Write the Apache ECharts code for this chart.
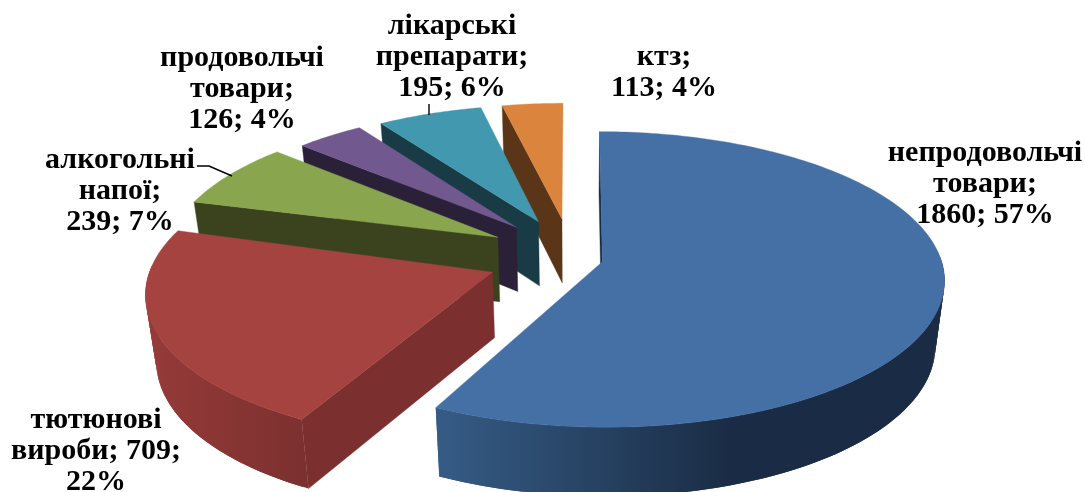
<!DOCTYPE html>
<html><head><meta charset="utf-8">
<style>html,body{margin:0;padding:0;background:#fff}#c{width:1085px;height:492px}</style>
<script src="https://cdn.jsdelivr.net/npm/echarts@6/dist/echarts.min.js"></script>
</head><body><div id="c"></div>
<script>
const categories = ['непродовольчі товари','тютюнові вироби','алкогольні напої','продовольчі товари','лікарські препарати','ктз'];
const values = [1860, 709, 239, 126, 195, 113];
const percents = [57, 22, 7, 4, 6, 4];
const topColors = ['#4570A5','#A54341','#89A54E','#71588F','#4198AF','#DB843D'];
const sideColors = ['#1A2C45','#7B302F','#3A431E','#2A2038','#193B45','#5A3517'];
const arcLight = ['#365C86','#963B39','#4A5528','#3A2C4D','#22505E','#74441E'];

const chart = echarts.init(document.getElementById('c'), null, {renderer:'canvas'});
const total = values.reduce((a,b)=>a+b,0);
const explode = [0.08,0.27,0.26,0.26,0.28,0.28];
const radius = [1,1,0.98,0.95,0.95,0.945];
const spin = [0,1.5,0,0,0,0];
const nudge = [[1,0],[2,-3],[-1,-4],[-2,-4],[0,-1],[-3,-1]];
const CX=575, CY=259, A=338.5, B=145, P=0.12, D=65, PD=0.06, SHRINK=0.975;
const TAU=Math.PI*2;

function slices(){let c=0;return values.map(v=>{const s=c/total*TAU;c+=v;return [s,c/total*TAU];});}
const ang=slices();
function proj(X,Z){const w=1-P*Z;return {x:CX+X*A/w,y:CY+Z*B/w,z:Z};}

function renderItem(params){
  const i=params.dataIndex, mid=(ang[i][0]+ang[i][1])/2, e=explode[i], r=radius[i], [nx,ny]=nudge[i];
  const a0=ang[i][0]+spin[i]*TAU/360, a1=ang[i][1]+spin[i]*TAU/360;
  const ox=Math.sin(mid)*e, oz=-Math.cos(mid)*e;
  const rank=(values.length-i)*10;
  const upPt=p=>[p.x+nx,p.y+ny];
  const lowPt=p=>[CX+(p.x-CX)*SHRINK+nx,p.y+D/(1-PD*p.z)+ny];
  const apex=proj(ox,oz);
  const arc=[], angle=[];
  const n=Math.max(4,Math.ceil((a1-a0)/(TAU/360)));
  for(let k=0;k<=n;k++){const t=a0+(a1-a0)*k/n;angle.push(t);arc.push(proj(ox+r*Math.sin(t),oz-r*Math.cos(t)));}
  const first=arc[0];
  const poly=(pts,fill,z,stroke)=>({type:'polygon',shape:{points:pts},z2:rank+z,silent:true,
    style:{fill,stroke:stroke===false?null:fill,lineWidth:0.4}});
  const wall=(p)=>[upPt(apex),upPt(p),lowPt(p),lowPt(apex)];
  const front=t=>-Math.cos(t)>-0.05;
  const strips=[];
  for(let k=0;k<n;k++){
    if(front(angle[k]) && front(angle[k+1])){
      const m=(k+2<=n && front(angle[k+2]))?k+2:k+1;
      strips.push([upPt(arc[k]),upPt(arc[m]),lowPt(arc[m]),lowPt(arc[k])]);
    }
  }
  const xs=strips.flat().map(p=>p[0]);
  const minX=xs.length?Math.min(...xs):0, maxX=xs.length?Math.max(...xs):1;
  const grad=new echarts.graphic.LinearGradient(minX,0,maxX,0,
    i===0?[{offset:0,color:arcLight[i]},{offset:0.58,color:sideColors[i]},{offset:1,color:sideColors[i]}]
         :[{offset:0,color:arcLight[i]},{offset:1,color:sideColors[i]}],true);
  return {type:'group',children:[
    poly(wall(first),sideColors[i],1),
    ...strips.map(s=>poly(s,grad,3,false)),
    poly([upPt(apex)].concat(arc.map(upPt)),topColors[i],4)
  ]};
}

const labelFont='bold 30px "Liberation Serif","Times New Roman",serif';
function lbl(x,y,lines){return {type:'text',x,y,z:50,silent:true,style:{text:lines.join('\n'),font:labelFont,fill:'#000',align:'center',verticalAlign:'middle',lineHeight:31}};}
function vp(i){return values[i]+'; '+percents[i]+'%';}
const leader=(pts)=>({type:'polyline',z:40,silent:true,shape:{points:pts},style:{stroke:'#000',lineWidth:1.4,fill:null}});

chart.setOption({
  animation:false,
  backgroundColor:'#fff',
  series:[{type:'custom',coordinateSystem:'none',renderItem,data:values.map((val,i)=>({name:categories[i],value:val})),animation:false,clip:false}],
  graphic:[
    lbl(985,184,['непродовольчі','товари;',vp(0)]),
    lbl(96,451,['тютюнові','вироби; '+values[1]+';',percents[1]+'%']),
    lbl(120,191,['алкогольні','напої;',vp(2)]),
    lbl(242,89,['продовольчі','товари;',vp(3)]),
    lbl(452,57,['лікарські','препарати;',vp(4)]),
    lbl(664,73,['ктз;',vp(5)]),
    leader([[197,166],[209,166],[232,176]]),
    leader([[429,104],[429,115]])
  ]
});
</script></body></html>
